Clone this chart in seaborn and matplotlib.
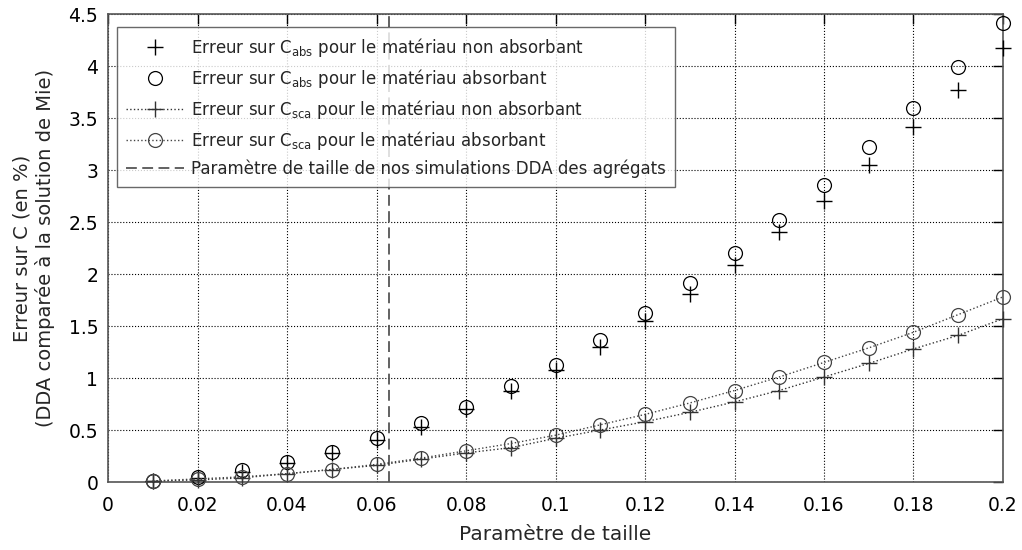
"""Erreur DDA vs Mie en fonction du paramètre de taille."""

import matplotlib

matplotlib.use("Agg")
import matplotlib.pyplot as plt
import pandas as pd
import seaborn as sns

# Paramètre de taille
x_size = [0.01, 0.02, 0.03, 0.04, 0.05, 0.06, 0.07, 0.08, 0.09, 0.10,
          0.11, 0.12, 0.13, 0.14, 0.15, 0.16, 0.17, 0.18, 0.19, 0.20]

# Erreur (%) sur C_abs, matériau non absorbant / absorbant
abs_non_absorbant = [0.01, 0.04, 0.10, 0.18, 0.28, 0.40, 0.53, 0.70, 0.88, 1.08,
                     1.30, 1.55, 1.81, 2.09, 2.40, 2.70, 3.05, 3.41, 3.77, 4.17]
abs_absorbant = [0.01, 0.05, 0.12, 0.195, 0.29, 0.42, 0.565, 0.72, 0.92, 1.13,
                 1.37, 1.625, 1.91, 2.20, 2.52, 2.86, 3.22, 3.60, 3.99, 4.41]

# Erreur (%) sur C_sca, matériau non absorbant / absorbant
sca_non_absorbant = [0.01, 0.02, 0.04, 0.08, 0.12, 0.16, 0.22, 0.28, 0.33, 0.42,
                     0.50, 0.58, 0.67, 0.77, 0.88, 1.01, 1.14, 1.28, 1.41, 1.57]
sca_absorbant = [0.01, 0.03, 0.05, 0.08, 0.12, 0.17, 0.23, 0.30, 0.37, 0.45,
                 0.55, 0.65, 0.76, 0.88, 1.01, 1.15, 1.29, 1.44, 1.61, 1.78]

x_simulations = 0.0628

labels = [
    r"Erreur sur C$_{\mathrm{abs}}$ pour le matériau non absorbant",
    r"Erreur sur C$_{\mathrm{abs}}$ pour le matériau absorbant",
    r"Erreur sur C$_{\mathrm{sca}}$ pour le matériau non absorbant",
    r"Erreur sur C$_{\mathrm{sca}}$ pour le matériau absorbant",
    "Paramètre de taille de nos simulations DDA des agrégats",
]

sns.set_style("white")
plt.rcParams["font.family"] = ["DejaVu Sans"]
plt.rcParams["mathtext.fontset"] = "dejavusans"

df = pd.DataFrame({
    "x": x_size * 4,
    "err": abs_non_absorbant + abs_absorbant + sca_non_absorbant + sca_absorbant,
    "serie": sum([[lab] * len(x_size) for lab in labels[:4]], []),
})

fig, ax = plt.subplots(figsize=(10.22, 5.5), dpi=100)
fig.subplots_adjust(left=0.1057, right=0.9814, top=0.9745, bottom=0.1236)

styles = [
    dict(marker="+", ls="none", color="black", ms=11, mew=1.0),
    dict(marker="o", ls="none", color="black", ms=10, mew=0.9, mfc="none"),
    dict(marker="+", ls=":", color="#333333", lw=1.0, ms=11, mew=1.0),
    dict(marker="o", ls=":", color="#444444", lw=1.0, ms=10, mew=0.9, mfc="none"),
]
for lab, st in zip(labels[:4], styles):
    sub = df[df["serie"] == lab]
    sns.lineplot(data=sub, x="x", y="err", ax=ax, label=lab, clip_on=False,
                 markeredgecolor=st["color"], zorder=5, **st)

ax.axvline(x_simulations, color="#555555", ls=(0, (6, 3)), lw=1.3, label=labels[4])

ax.set_xlim(0, 0.2)
ax.set_ylim(0, 4.5)
ax.set_xticks([0, 0.02, 0.04, 0.06, 0.08, 0.1, 0.12, 0.14, 0.16, 0.18, 0.2])
ax.set_xticklabels(["0", "0.02", "0.04", "0.06", "0.08", "0.1", "0.12",
                    "0.14", "0.16", "0.18", "0.2"])
ax.set_yticks([0, 0.5, 1, 1.5, 2, 2.5, 3, 3.5, 4, 4.5])
ax.set_yticklabels(["0", "0.5", "1", "1.5", "2", "2.5", "3", "3.5", "4", "4.5"])
ax.tick_params(direction="in", length=7, width=1, top=True, right=True,
               labelsize=13.5, colors="black")
ax.tick_params(axis="x", pad=10)
ax.tick_params(axis="y", pad=7)
ax.grid(True, ls=":", color="black", lw=0.8)
for sp in ax.spines.values():
    sp.set_color("#555555")
    sp.set_linewidth(1.2)

ax.set_xlabel("Paramètre de taille", fontsize=14.5, labelpad=7)
ax.set_ylabel("Erreur sur C (en %)\n(DDA comparée à la solution de Mie)",
              fontsize=14, labelpad=10)

leg = ax.legend(loc="upper left", bbox_to_anchor=(0.01, 0.972), fontsize=12,
                handlelength=3.5, labelspacing=0.47, frameon=True, fancybox=False,
                borderpad=0.55, handletextpad=0.4, borderaxespad=0)
leg.get_frame().set_edgecolor("#444444")
leg.get_frame().set_linewidth(1.0)
leg.set_zorder(10)

fig.savefig("out.png", dpi=100)
